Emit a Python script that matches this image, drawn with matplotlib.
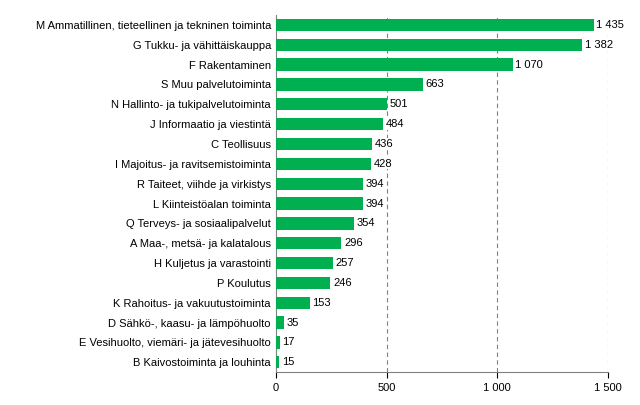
import matplotlib
matplotlib.use("Agg")
import matplotlib.pyplot as plt

categories = ["M Ammatillinen, tieteellinen ja tekninen toiminta", "G Tukku- ja vähittäiskauppa",
              "F Rakentaminen", "S Muu palvelutoiminta", "N Hallinto- ja tukipalvelutoiminta",
              "J Informaatio ja viestintä", "C Teollisuus", "I Majoitus- ja ravitsemistoiminta",
              "R Taiteet, viihde ja virkistys", "L Kiinteistöalan toiminta",
              "Q Terveys- ja sosiaalipalvelut", "A Maa-, metsä- ja kalatalous",
              "H Kuljetus ja varastointi", "P Koulutus", "K Rahoitus- ja vakuutustoiminta",
              "D Sähkö-, kaasu- ja lämpöhuolto", "E Vesihuolto, viemäri- ja jätevesihuolto",
              "B Kaivostoiminta ja louhinta"]
values = [1435, 1382, 1070, 663, 501, 484, 436, 428, 394, 394, 354, 296, 257, 246, 153, 35, 17, 15]
xticks = [0, 500, 1000, 1500]

def fmt(v):
    return f"{v:,}".replace(",", " ")

fig = plt.figure(figsize=(6.4, 4.05), dpi=100)
ax = fig.add_axes([0.431, 0.081, 0.519, 0.882])
y = list(range(len(categories)))
ax.barh(y, values, height=0.62, color="#00b050", zorder=3)
for yi, v in zip(y, values):
    ax.text(v + 12, yi, fmt(v), va="center", ha="left", fontsize=8, fontfamily="Liberation Sans",
            zorder=4, bbox=dict(facecolor="white", edgecolor="none", pad=0.5))
ax.set_yticks(y)
ax.set_yticklabels(categories, fontsize=8, fontfamily="Liberation Sans")
ax.set_ylim(len(categories) - 0.5, -0.5)
ax.set_xlim(0, 1500)
ax.set_xticks(xticks)
ax.set_xticklabels([fmt(t) for t in xticks], fontsize=8, fontfamily="Liberation Sans")
for t in xticks[1:]:
    ax.axvline(t, color="#808080", linestyle=(0, (4, 3)), linewidth=0.8, zorder=1)
ax.tick_params(axis="y", length=0)
ax.tick_params(axis="x", length=4, direction="out")
for s in ["top", "right"]:
    ax.spines[s].set_visible(False)
for s in ["left", "bottom"]:
    ax.spines[s].set_color("#808080")
fig.savefig("out.png", dpi=100)
